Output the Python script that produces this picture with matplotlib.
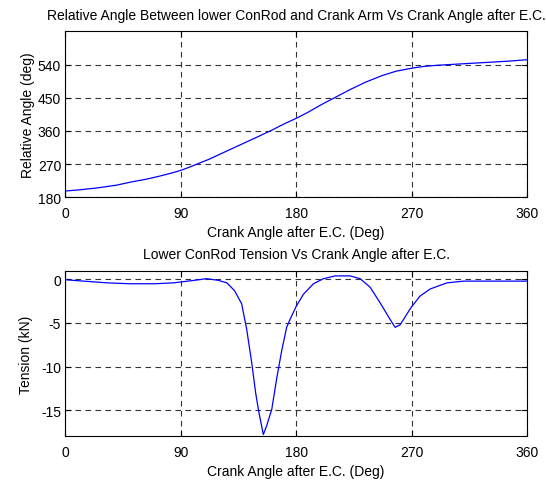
import numpy as np
import matplotlib
matplotlib.use("Agg")
import matplotlib.pyplot as plt
from matplotlib.ticker import FuncFormatter

plt.rcParams['font.family'] = ['Liberation Sans', 'DejaVu Sans']

# relative angle (deg) vs crank angle
angle_x = [0, 13, 26, 40, 52, 63, 73, 82, 90, 97, 104, 112, 120, 130, 140, 150,
           161, 170, 180, 190, 200, 210, 222, 234, 247, 258, 270, 280, 290, 300,
           315, 330, 345, 360]
rel_angle = [197, 201, 206, 213, 222, 229, 237, 245, 253, 262, 272, 283, 296, 312, 328, 344,
             362, 378, 394, 412, 432, 450, 472, 492, 510, 522, 530, 535, 538, 540,
             543, 546, 549, 553]

# lower conrod tension (kN) vs crank angle
tens_x = [0, 1, 14, 33, 50, 70, 84, 90, 101, 110, 119, 126, 132, 137.5, 141.4, 145.3,
          148.4, 151, 154.4, 157, 161, 164.8, 168.7, 172.6, 175.2, 180, 185.7, 193.5,
          201.3, 210.4, 222.1, 229.9, 237.7, 245.5, 253.3, 257.2, 261.1, 265, 269.7,
          276.7, 284.5, 297.5, 310.5, 330, 360]
tension = [-0.05, -0.05, -0.2, -0.4, -0.5, -0.5, -0.4, -0.3, -0.1, 0.08, -0.1, -0.4, -1.3, -2.8,
           -5.7, -9.5, -13.0, -15.3, -17.8, -16.8, -14.9, -11.4, -8.2, -5.5, -4.6, -3.1,
           -1.7, -0.5, 0.08, 0.4, 0.4, 0.08, -0.9, -2.7, -4.6, -5.5, -5.2, -4.3, -3.2,
           -1.9, -1.1, -0.4, -0.2, -0.2, -0.2]

x_ticks = [0, 90, 180, 270, 360]
angle_ticks = [180, 270, 360, 450, 540]
tens_ticks = [-15, -10, -5, 0]

fs = 10
fig = plt.figure(figsize=(5.46, 4.81), dpi=100)
ax1 = fig.add_axes([0.1196, 0.5877, 0.8456, 0.3451])
ax2 = fig.add_axes([0.1196, 0.0909, 0.8456, 0.3443])


def style(ax):
    ax.grid(True, color='black', linestyle=(0, (5, 4)), linewidth=0.8, alpha=0.8)
    ax.tick_params(direction='in', top=True, right=True, length=4, labelsize=fs, pad=3)
    ax.tick_params(axis='x', pad=6)
    for s in ax.spines.values():
        s.set_linewidth(0.8)
    ax.set_xlim(0, 360)
    ax.set_xticks(x_ticks)
    ax.set_xlabel('Crank Angle after E.C. (Deg)', fontsize=fs, labelpad=4)


ax1.plot(angle_x, rel_angle, color='#0000ff', linewidth=0.9)
style(ax1)
ax1.set_ylim(180, 630)
ax1.set_yticks(angle_ticks)
ax1.set_ylabel('Relative Angle (deg)', fontsize=fs, labelpad=2)
ax1.set_title('Relative Angle Between lower ConRod and Crank Arm Vs Crank Angle after E.C.',
              fontsize=fs, pad=9)

ax2.plot(tens_x, tension, color='#0000ff', linewidth=0.9)
style(ax2)
ax2.set_ylim(-18, 1)
ax2.set_yticks(tens_ticks)
ax2.yaxis.set_major_formatter(FuncFormatter(lambda v, p: '%d' % v if v >= 0 else '-%d' % -v))
ax2.set_ylabel('Tension (kN)', fontsize=fs, labelpad=6)
ax2.set_title('Lower ConRod Tension Vs Crank Angle after E.C.', fontsize=fs, pad=9)

fig.savefig('out.png', dpi=100)
